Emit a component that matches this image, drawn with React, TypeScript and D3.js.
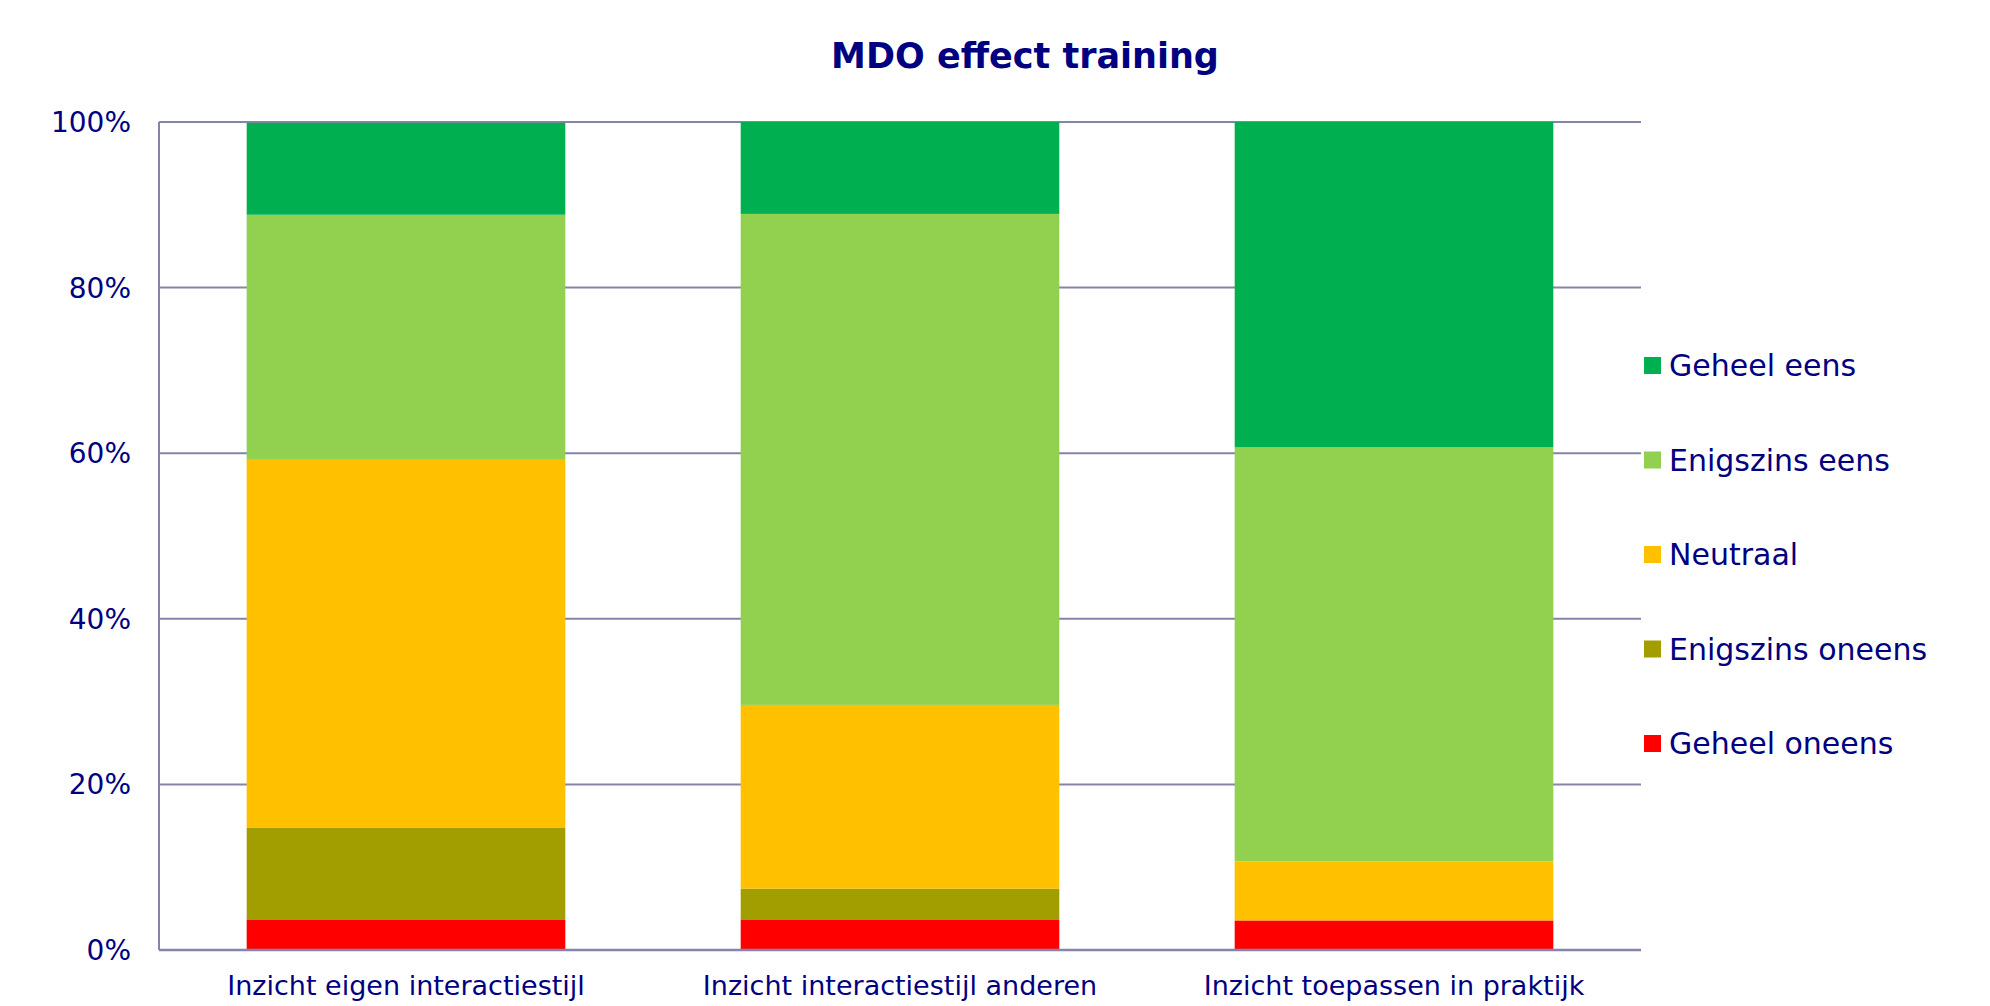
import React from "react";
import * as d3 from "d3";

const categories = [
  "Inzicht eigen interactiestijl",
  "Inzicht interactiestijl anderen",
  "Inzicht toepassen in praktijk",
];
const seriesNames = [
  "Geheel oneens",
  "Enigszins oneens",
  "Neutraal",
  "Enigszins eens",
  "Geheel eens",
];
const seriesColors = ["#FF0000", "#A39E00", "#FFC000", "#92D050", "#00B050"];
// percentages per category, in order of seriesNames
const geheelOneens = [3.7, 3.7, 3.57];
const enigszinsOneens = [11.1, 3.7, 0];
const neutraal = [44.4, 22.2, 7.14];
const enigszinsEens = [29.6, 59.3, 50.0];
const geheelEens = [11.1, 11.1, 39.29];
const yTicks = [0, 20, 40, 60, 80, 100];

const W = 1990;
const H = 1006;
const M = { left: 159, right: 1641, top: 122, bottom: 950 };
const TEXT = "#000080";
const GRID = "#8585A8";
const FONT = "'DejaVu Sans', Verdana, sans-serif";

export default function App() {
  const seriesValues = [geheelOneens, enigszinsOneens, neutraal, enigszinsEens, geheelEens];
  const rows = categories.map((c, i) => {
    const r: any = { cat: c };
    seriesNames.forEach((s, j) => (r[s] = seriesValues[j][i]));
    return r;
  });
  const stack = d3.stack<any>().keys(seriesNames)(rows);

  const x = d3
    .scaleBand<string>()
    .domain(categories)
    .range([M.left, M.right])
    .paddingInner(0.355)
    .paddingOuter(0.1775);
  const y = d3.scaleLinear().domain([0, 100]).range([M.bottom, M.top]);

  const legendOrder = [...seriesNames].reverse();
  const legendTop = 365.5;
  const legendStep = 94.5;

  return (
    <svg
      width={W}
      height={H}
      style={{ position: "absolute", left: 0, top: 0, background: "#fff" }}
      fontFamily={FONT}
    >
      <rect x={0} y={0} width={W} height={H} fill="#fff" />
      <text
        x={1025}
        y={68}
        textAnchor="middle"
        fontSize={35}
        fontWeight="bold"
        fill={TEXT}
      >
        MDO effect training
      </text>

      {yTicks.map((t) => (
        <g key={t}>
          {t > 0 && (
            <line x1={M.left} x2={M.right} y1={y(t)} y2={y(t)} stroke={GRID} strokeWidth={2} />
          )}
          <text
            x={131}
            y={y(t)}
            dy="0.36em"
            textAnchor="end"
            fontSize={28}
            fill={TEXT}
          >
            {t}%
          </text>
        </g>
      ))}

      {stack.map((layer, j) => (
        <g key={layer.key} fill={seriesColors[j]}>
          {layer.map((d, i) => (
            <rect
              key={i}
              x={x(categories[i])}
              width={x.bandwidth()}
              y={y(d[1])}
              height={Math.max(0, y(d[0]) - y(d[1]))}
            />
          ))}
        </g>
      ))}

      <line x1={M.left} x2={M.left} y1={M.top} y2={M.bottom} stroke={GRID} strokeWidth={2} />
      <line x1={M.left} x2={M.right} y1={M.bottom} y2={M.bottom} stroke={GRID} strokeWidth={2.5} />

      {categories.map((c) => (
        <text
          key={c}
          x={(x(c) as number) + x.bandwidth() / 2}
          y={995}
          textAnchor="middle"
          fontSize={27}
          fill={TEXT}
        >
          {c}
        </text>
      ))}

      {legendOrder.map((s, k) => {
        const cy = legendTop + k * legendStep;
        const col = seriesColors[seriesNames.indexOf(s)];
        return (
          <g key={s}>
            <rect x={1644} y={cy - 8.5} width={17} height={17} fill={col} />
            <text x={1669} y={cy} dy="0.36em" fontSize={30} fill={TEXT}>
              {s}
            </text>
          </g>
        );
      })}
    </svg>
  );
}
